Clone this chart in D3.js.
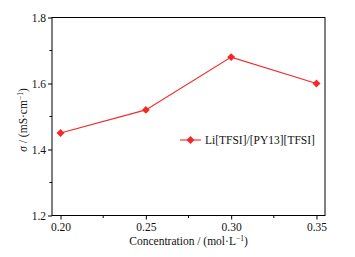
<!DOCTYPE html>
<html>
<head>
<meta charset="utf-8">
<script src="https://cdn.jsdelivr.net/npm/d3@7"></script>
<style>
body { margin: 0; background: #fff; }
svg { display: block; }
</style>
</head>
<body>
<svg width="355" height="257"></svg>
<script>
// data
const concentration = [0.20, 0.25, 0.30, 0.35];
const conductivity = [1.45, 1.52, 1.68, 1.60];
const xTicks = [0.20, 0.25, 0.30, 0.35];
const yTicks = [1.2, 1.4, 1.6, 1.8];
const seriesName = "Li[TFSI]/[PY13][TFSI]";

const svg = d3.select("svg");
const serif = "Liberation Serif";
const mLeft = 52, mRight = 325, mTop = 17.5, mBottom = 215.5;
const red = "#f42828";

const x = d3.scaleLinear().domain([0.195, 0.355]).range([mLeft, mRight]);
const y = d3.scaleLinear().domain([1.2, 1.8]).range([mBottom, mTop]);

// frame
svg.append("rect")
	.attr("x", mLeft).attr("y", mTop)
	.attr("width", mRight - mLeft).attr("height", mBottom - mTop)
	.attr("fill", "none").attr("stroke", "#000").attr("stroke-width", 1);

const xAxis = svg.append("g")
	.attr("transform", `translate(0,${mBottom})`)
	.call(d3.axisBottom(x).tickValues(xTicks).tickFormat(d3.format(".2f")).tickSize(4).tickPadding(3));
xAxis.append("g").selectAll("line")
	.data([0.225, 0.275, 0.325])
	.join("line")
	.attr("x1", (d) => x(d)).attr("x2", (d) => x(d))
	.attr("y1", 0).attr("y2", 2.5).attr("stroke", "#000");

const yAxis = svg.append("g")
	.attr("transform", `translate(${mLeft},0)`)
	.call(d3.axisLeft(y).tickValues(yTicks).tickFormat(d3.format(".1f")).tickSize(4).tickPadding(2));
yAxis.append("g").selectAll("line")
	.data([1.3, 1.5, 1.7])
	.join("line")
	.attr("y1", (d) => y(d)).attr("y2", (d) => y(d))
	.attr("x1", 0).attr("x2", -2.5).attr("stroke", "#000");

svg.selectAll(".domain").remove();
svg.selectAll(".tick text")
	.attr("font-family", serif)
	.attr("font-size", 11.5)
	.attr("fill", "#111");

// axis titles
svg.append("text")
	.attr("x", (mLeft + mRight) / 2).attr("y", 245)
	.attr("text-anchor", "middle")
	.attr("font-family", serif)
	.attr("font-size", 11.5)
	.attr("fill", "#111")
	.html("Concentration / (mol·L<tspan dy='-4' font-size='7.5'>−1</tspan><tspan dy='4'>)</tspan>");

svg.append("text")
	.attr("transform", `translate(27,120) rotate(-90)`)
	.attr("text-anchor", "middle")
	.attr("font-family", serif)
	.attr("font-size", 11.5)
	.attr("fill", "#111")
	.html("<tspan font-style='italic'>σ</tspan> / (mS·cm<tspan dy='-4' font-size='7.5'>−1</tspan><tspan dy='4'>)</tspan>");

// series
const pts = concentration.map((c, i) => [c, conductivity[i]]);
svg.append("path")
	.datum(pts)
	.attr("fill", "none")
	.attr("stroke", red)
	.attr("stroke-width", 1.1)
	.attr("d", d3.line().x((d) => x(d[0])).y((d) => y(d[1])));

const diamond = d3.symbol().type(d3.symbolDiamond2).size(40);
svg.selectAll("path.pt")
	.data(pts)
	.join("path")
	.attr("class", "pt")
	.attr("transform", (d) => `translate(${x(d[0])},${y(d[1])})`)
	.attr("d", diamond)
	.attr("fill", red);

// legend
const lg = svg.append("g").attr("transform", "translate(180,140)");
lg.append("line").attr("x1", 0).attr("x2", 21).attr("stroke", red).attr("stroke-width", 1.1);
lg.append("path").attr("transform", "translate(10.5,0)").attr("d", diamond).attr("fill", red);
lg.append("text")
	.attr("x", 25).attr("y", 4)
	.attr("font-family", serif)
	.attr("font-size", 11.5)
	.attr("fill", "#111")
	.text(seriesName);
</script>
</body>
</html>
